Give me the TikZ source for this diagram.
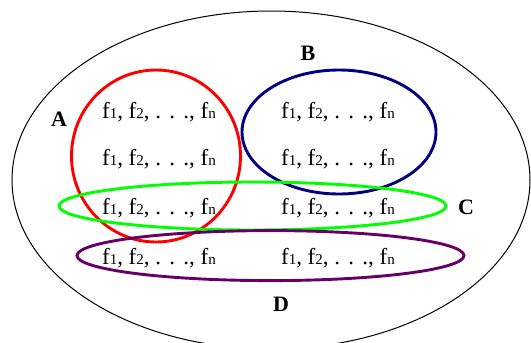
\documentclass[tikz,border=0pt]{standalone}
\usepackage{fontspec}
\setmainfont{Liberation Serif}
\newcommand{\sm}[1]{{\fontsize{15}{15}\selectfont #1}}
\newcommand{\mydots}{.\hspace{0.36em}.\hspace{0.36em}.}
\newcommand{\fseq}{f\sm{1}, f\sm{2}, \mydots, f\sm{n}}
\begin{document}
\begin{tikzpicture}[x=1pt,y=-1pt,
  item/.style={font=\fontsize{23}{25}\selectfont, inner sep=0pt},
  setlabel/.style={font=\fontsize{22}{24}\selectfont\bfseries, inner sep=0pt},
  ring/.style={line width=2.9pt}]
\useasboundingbox (0,0) rectangle (531,343);
\begin{scope}
\clip (0,0) rectangle (531,343);
\draw[line width=1pt] (271,180) ellipse [x radius=259, y radius=169];
\end{scope}
\draw[ring, red] (156,156) ellipse [x radius=84.5, y radius=86];
\draw[ring, blue!50!black] (339,132) ellipse [x radius=97, y radius=62];
\draw[ring, green] (252.5,206) ellipse [x radius=193.5, y radius=24];
\draw[ring, violet!80!black] (270.5,255.6) ellipse [x radius=193.5, y radius=25];
\node[item] (a1) at (159,112) {\fseq};
\node[item] (a2) at (159,159) {\fseq};
\node[item] (a3) at (159,208) {\fseq};
\node[item] (a4) at (159,258) {\fseq};
\node[item] (b1) at (338,112) {\fseq};
\node[item] (b2) at (338,159) {\fseq};
\node[item] (b3) at (338,208) {\fseq};
\node[item] (b4) at (338,258) {\fseq};
\node[setlabel] (A) at (59,119) {A};
\node[setlabel] (B) at (308,53) {B};
\node[setlabel] (C) at (466,207) {C};
\node[setlabel] (D) at (281,304) {D};
\end{tikzpicture}
\end{document}
